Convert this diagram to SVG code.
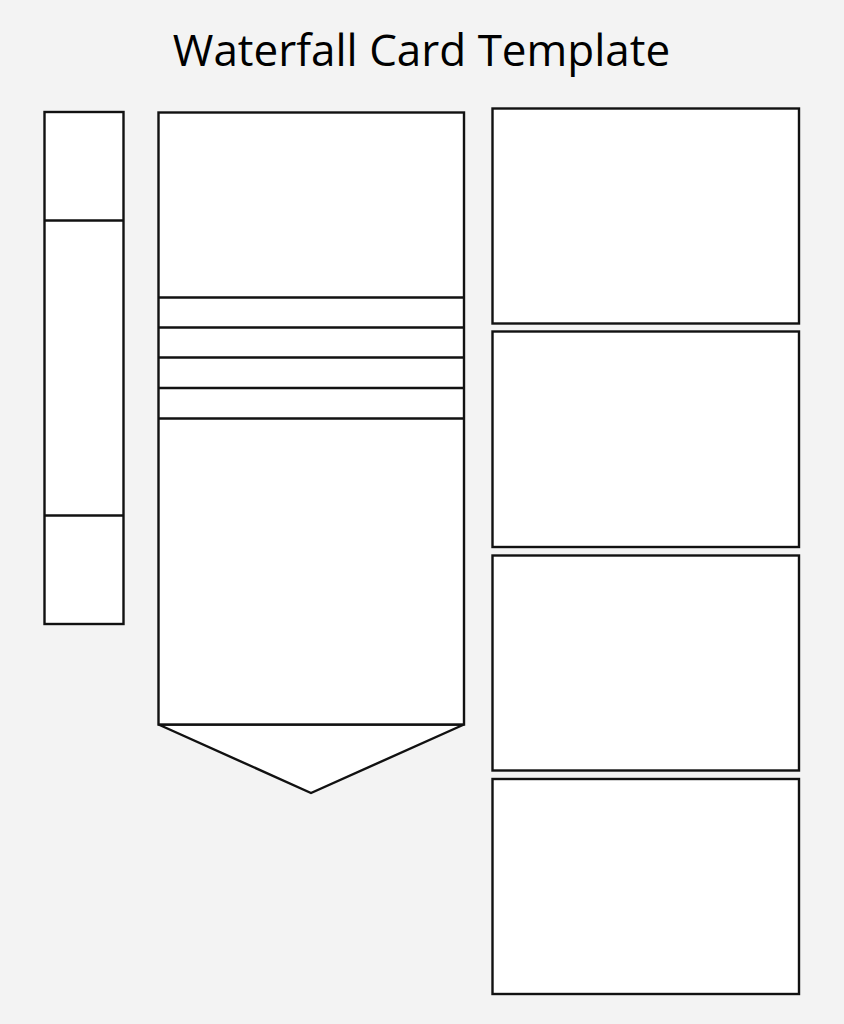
<svg xmlns="http://www.w3.org/2000/svg" width="844" height="1024" viewBox="0 0 844 1024">
<style>
.s{fill:#ffffff;stroke:#111111;stroke-width:2.4}
.l{fill:none;stroke:#111111;stroke-width:2.4}
.t{font-family:"Open Sans","Noto Sans",sans-serif;font-size:44px;fill:#000000}
</style>
<rect x="0" y="0" width="844" height="1024" fill="#f3f3f3"/>
<text class="t" x="421.5" y="66" text-anchor="middle">Waterfall Card Template</text>
<g id="left-strip">
<rect class="s" x="44.5" y="112" width="79" height="512"/>
<line class="l" x1="44.5" y1="220.5" x2="123.5" y2="220.5"/>
<line class="l" x1="44.5" y1="515.5" x2="123.5" y2="515.5"/>
</g>
<g id="middle-card">
<polygon class="s" points="158.5,724.5 311,793 464,724.5"/>
<rect class="s" x="158.5" y="112.5" width="305.5" height="612"/>
<line class="l" x1="158.5" y1="297.5" x2="464" y2="297.5"/>
<line class="l" x1="158.5" y1="327.5" x2="464" y2="327.5"/>
<line class="l" x1="158.5" y1="357.5" x2="464" y2="357.5"/>
<line class="l" x1="158.5" y1="388" x2="464" y2="388"/>
<line class="l" x1="158.5" y1="418.5" x2="464" y2="418.5"/>
</g>
<g id="card-1"><rect class="s" x="492.5" y="108.5" width="306.5" height="215"/></g>
<g id="card-2"><rect class="s" x="492.5" y="331.5" width="306.5" height="215.5"/></g>
<g id="card-3"><rect class="s" x="492.5" y="555.5" width="306.5" height="215"/></g>
<g id="card-4"><rect class="s" x="492.5" y="779" width="306.5" height="215"/></g>
<g id="connectors"></g>
</svg>
